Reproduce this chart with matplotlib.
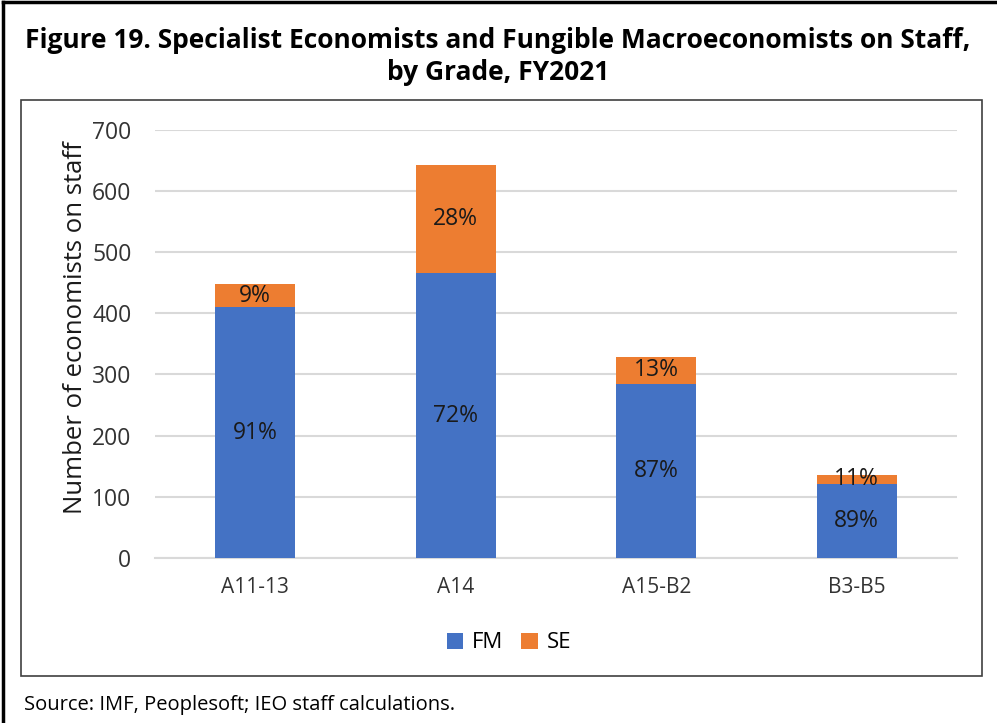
import matplotlib
matplotlib.use("Agg")
import matplotlib.pyplot as plt
from matplotlib.patches import Rectangle
import numpy as np

categories = ["A11-13", "A14", "A15-B2", "B3-B5"]
fm_values = [410, 465, 285, 121]
se_values = [38, 178, 43, 15]
fm_labels = ["91%", "72%", "87%", "89%"]
se_labels = ["9%", "28%", "13%", "11%"]
yticks = [0, 100, 200, 300, 400, 500, 600, 700]

FONT = ["Open Sans", "DejaVu Sans"]
plt.rcParams['font.family'] = FONT

W, H = 997, 723
fig = plt.figure(figsize=(W / 100, H / 100), dpi=100)
fig.patch.set_facecolor("white")

# outer black border (top & left) and inner chart box
fig.add_artist(plt.Line2D([3 / W, 3 / W], [0, 1 - 2 / H], color="black", lw=2.5, transform=fig.transFigure))
fig.add_artist(plt.Line2D([3 / W, 1], [1 - 2 / H, 1 - 2 / H], color="black", lw=2.5, transform=fig.transFigure))
fig.add_artist(Rectangle((21 / W, 1 - 676 / H), (982 - 21) / W, (676 - 100) / H,
                         transform=fig.transFigure, fill=False, edgecolor="#404040", lw=1.2))

fig.text(498 / W, 1 - 40 / H, "Figure 19. Specialist Economists and Fungible Macroeconomists on Staff,",
         ha="center", va="center", fontsize=19, fontweight="bold")
fig.text(498 / W, 1 - 73 / H, "by Grade, FY2021",
         ha="center", va="center", fontsize=19, fontweight="bold")
fig.text(24 / W, 1 - 705 / H, "Source: IMF, Peoplesoft; IEO staff calculations.",
         ha="left", va="center", fontsize=14.5)

y0, y700 = 558, 129.7
ax = fig.add_axes([155 / W, 1 - y0 / H, (957 - 155) / W, (y0 - y700) / H])
x = np.arange(len(categories))
blue, orange = "#4472C4", "#ED7D31"
ax.bar(x, fm_values, width=0.4, color=blue, label="FM", zorder=3)
ax.bar(x, se_values, width=0.4, bottom=fm_values, color=orange, label="SE", zorder=3)

for i in range(len(categories)):
    ax.text(x[i], fm_values[i] / 2, fm_labels[i], ha="center", va="center", fontsize=16.5, color="#1a1a1a", zorder=4)
    ax.text(x[i], fm_values[i] + se_values[i] / 2, se_labels[i], ha="center", va="center", fontsize=16.5, color="#1a1a1a", zorder=4)

ax.set_xlim(-0.5, len(categories) - 0.5)
ax.set_ylim(0, 700)
ax.set_yticks(yticks)
ax.set_xticks(x)
ax.set_xticklabels(categories, fontsize=15, color="#333333")
ax.tick_params(axis="y", labelsize=16.5, colors="#333333", length=0, pad=17)
ax.tick_params(axis="x", length=0, pad=14)
ax.yaxis.grid(True, color="#d9d9d9", lw=1.5, zorder=0)
for s in ["top", "right", "left"]:
    ax.spines[s].set_visible(False)
ax.spines["bottom"].set_color("#d9d9d9")
ax.spines["bottom"].set_linewidth(1.5)
ax.set_ylabel("Number of economists on staff", fontsize=18.5, color="#1a1a1a")
ax.yaxis.set_label_coords(-(155 - 88) / (957 - 155), (558 - 328) / (558 - 129.7))

leg = fig.legend(loc="center", bbox_to_anchor=(509 / W, 1 - 643 / H),
                 ncol=2, frameon=False, fontsize=16, handlelength=0.75, handleheight=0.75,
                 handletextpad=0.4, columnspacing=0.8)

fig.savefig("out.png", dpi=100, facecolor="white")
